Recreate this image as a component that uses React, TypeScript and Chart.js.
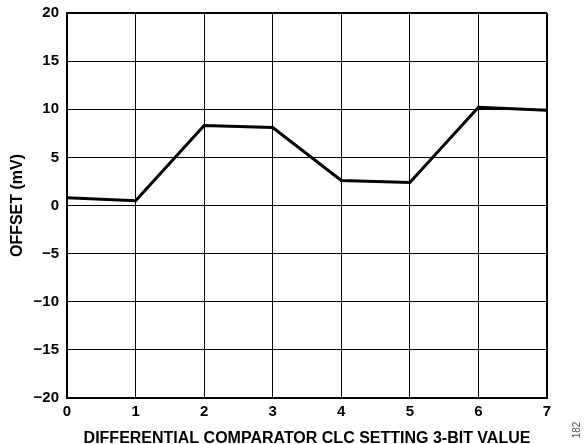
import React, { useEffect, useRef } from "react";
import { Chart, registerables } from "chart.js";

Chart.register(...registerables);

const clcSetting = [0, 1, 2, 3, 4, 5, 6, 7];
const offsetMv = [0.8, 0.5, 8.3, 8.1, 2.6, 2.4, 10.2, 9.9];
const yTicks = [-20, -15, -10, -5, 0, 5, 10, 15, 20];

const FONT = "'Liberation Sans', Arial, sans-serif";

const figNote = {
  id: "figNote",
  afterDraw(chart: any) {
    const ctx = chart.ctx;
    ctx.save();
    ctx.translate(577, 430);
    ctx.rotate(-Math.PI / 2);
    ctx.font = `10px ${FONT}`;
    ctx.fillStyle = "#555";
    ctx.textAlign = "center";
    ctx.textBaseline = "middle";
    ctx.fillText("182", 0, 0);
    ctx.restore();
  },
};

export default function App() {
  const ref = useRef<HTMLCanvasElement>(null);
  useEffect(() => {
    if (!ref.current) return;
    const chart = new Chart(ref.current, {
      type: "line",
      data: {
        datasets: [
          {
            data: clcSetting.map((x, i) => ({ x, y: offsetMv[i] })),
            borderColor: "#000",
            borderWidth: 3,
            pointRadius: 0,
            tension: 0,
            fill: false,
          },
        ],
      },
      options: {
        animation: false,
        responsive: false,
        layout: { padding: { top: 13, right: 37, left: 0, bottom: 0 } },
        plugins: { legend: { display: false }, tooltip: { enabled: false } },
        scales: {
          x: {
            type: "linear",
            min: 0,
            max: 7,
            afterFit: (s: any) => {
              s.height = 46;
            },
            ticks: {
              stepSize: 1,
              color: "#000",
              font: { family: FONT, size: 15, weight: "bold" },
              padding: 5,
            },
            grid: {
              color: "#000",
              lineWidth: (c: any) => (c.tick && c.tick.value === 7 ? 2 : 1),
              drawTicks: false,
            },
            border: { color: "#000", width: 2 },
            title: {
              display: true,
              text: "DIFFERENTIAL COMPARATOR CLC SETTING 3-BIT VALUE",
              color: "#000",
              font: { family: FONT, size: 16, weight: "bold", lineHeight: 1 },
              padding: { top: 2, bottom: -3 },
            },
          },
          y: {
            type: "linear",
            min: -20,
            max: 20,
            afterFit: (s: any) => {
              s.width = 67;
              s.paddingTop = 0;
              s.paddingBottom = 0;
            },
            afterBuildTicks: (s: any) => {
              s.ticks = yTicks.map((v) => ({ value: v }));
            },
            ticks: {
              color: "#000",
              font: { family: FONT, size: 15, weight: "bold" },
              padding: 8,
              callback: (v: any) => (Number(v) < 0 ? "\u2212" + Math.abs(Number(v)) : String(v)),
            },
            grid: {
              color: "#000",
              lineWidth: (c: any) => (c.tick && c.tick.value === 20 ? 2 : 1),
              drawTicks: false,
            },
            border: { color: "#000", width: 2 },
            title: {
              display: true,
              text: "OFFSET (mV)",
              color: "#000",
              font: { family: FONT, size: 16, weight: "bold", lineHeight: 1 },
              padding: { top: 10, bottom: 0 },
            },
          },
        },
      },
      plugins: [figNote],
    });
    return () => chart.destroy();
  }, []);
  return (
    <div style={{ position: "fixed", left: 0, top: 0, width: 584, height: 444, background: "#fff" }}>
      <canvas ref={ref} width={584} height={444} style={{ width: 584, height: 444 }} />
    </div>
  );
}
